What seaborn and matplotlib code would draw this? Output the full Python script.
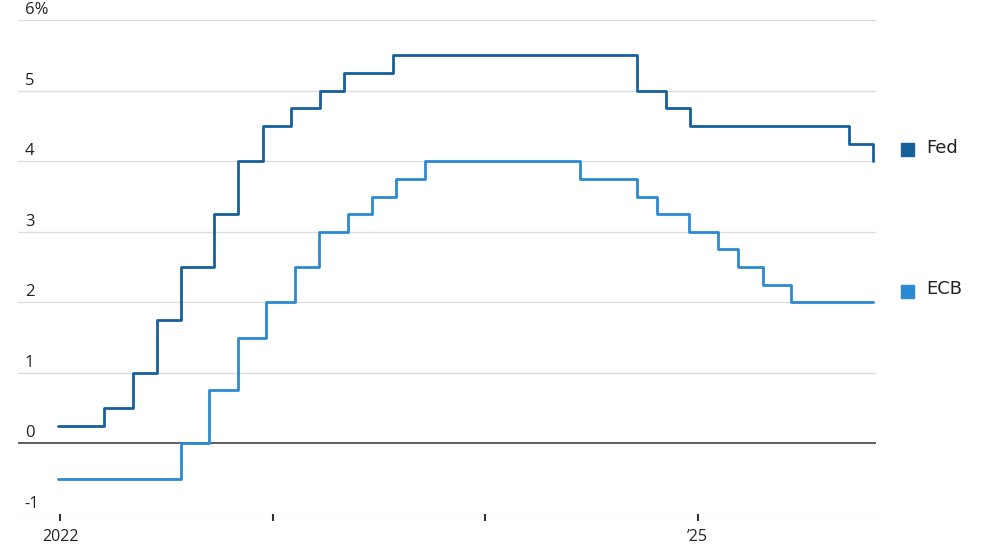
import pandas as pd
import seaborn as sns
import matplotlib.pyplot as plt
import matplotlib.transforms as mtransforms

# Policy rate decisions (effective dates) - Fed upper bound, ECB deposit rate
fed_dates = ['2021-12-27', '2022-03-17', '2022-05-05', '2022-06-16', '2022-07-28',
             '2022-09-22', '2022-11-03', '2022-12-15', '2023-02-02', '2023-03-23',
             '2023-05-04', '2023-07-27', '2024-09-19', '2024-11-08', '2024-12-19',
             '2025-09-18', '2025-10-29', '2025-10-30']
fed_rates = [0.25, 0.5, 1.0, 1.75, 2.5, 3.25, 4.0, 4.5, 4.75, 5.0,
             5.25, 5.5, 5.0, 4.75, 4.5, 4.25, 4.0, 4.0]

ecb_dates = ['2021-12-27', '2022-07-27', '2022-09-14', '2022-11-02', '2022-12-21',
             '2023-02-08', '2023-03-22', '2023-05-10', '2023-06-21', '2023-08-02',
             '2023-09-20', '2024-06-12', '2024-09-18', '2024-10-23', '2024-12-18',
             '2025-02-05', '2025-03-12', '2025-04-23', '2025-06-11', '2025-10-30']
ecb_rates = [-0.5, 0.0, 0.75, 1.5, 2.0, 2.5, 3.0, 3.25, 3.5, 3.75,
             4.0, 3.75, 3.5, 3.25, 3.0, 2.75, 2.5, 2.25, 2.0, 2.0]

y_ticks = [-1, 0, 1, 2, 3, 4, 5, 6]
y_labels = ['-1', '0', '1', '2', '3', '4', '5', '6%']
x_ticks = ['2022-01-01', '2023-01-01', '2024-01-01', '2025-01-01']
x_labels = ['2022', '', '', '\u201925']

fed_color = '#17609a'
ecb_color = '#2b8ad1'

df = pd.concat([
    pd.DataFrame({'date': pd.to_datetime(fed_dates), 'rate': fed_rates, 'bank': 'Fed'}),
    pd.DataFrame({'date': pd.to_datetime(ecb_dates), 'rate': ecb_rates, 'bank': 'ECB'}),
])

sns.set_style('white')
plt.rcParams['font.family'] = ['Open Sans', 'DejaVu Sans']

fig = plt.figure(figsize=(10, 5.45), dpi=100)
ax = fig.add_axes([0.018, 0.057, 0.858, 0.906])

sns.lineplot(data=df, x='date', y='rate', hue='bank', palette={'Fed': fed_color, 'ECB': ecb_color},
             drawstyle='steps-post', linewidth=2.0, legend=False, ax=ax, zorder=3)

ax.set_ylim(-1, 6)
ax.set_xlim(pd.Timestamp('2021-10-20'), pd.Timestamp('2025-11-04'))
for y in y_ticks:
    if y == 0:
        ax.axhline(y, color='#333333', linewidth=1.1, zorder=2)
    else:
        ax.axhline(y, color='#dddddd', linewidth=1.0, zorder=1)

for spine in ax.spines.values():
    spine.set_visible(False)

ax.set_yticks([])
trans = mtransforms.blended_transform_factory(ax.transAxes, ax.transData)
for y, lab in zip(y_ticks, y_labels):
    ax.annotate(lab, xy=(0.008, y), xycoords=trans, xytext=(0, 1.5), textcoords='offset points',
                ha='left', va='bottom', fontsize=12, color='#222222')

ax.set_xticks(pd.to_datetime(x_ticks))
ax.set_xticklabels(x_labels, fontsize=11.5, color='#222222')
ax.tick_params(axis='x', bottom=True, direction='out', length=5, width=1.5, color='#333333', pad=6)
ax.set_xlabel('')
ax.set_ylabel('')

# legend on the right
for name, col, ypos in [('Fed', fed_color, 0.725), ('ECB', ecb_color, 0.465)]:
    fig.patches.append(plt.Rectangle((0.901, ypos - 0.012), 0.013, 0.024, color=col,
                                     transform=fig.transFigure, figure=fig))
    fig.text(0.926, ypos + 0.004, name, fontsize=13, color='#222222', va='center', ha='left',
             family='DejaVu Sans')

fig.savefig('out.png', dpi=100)
